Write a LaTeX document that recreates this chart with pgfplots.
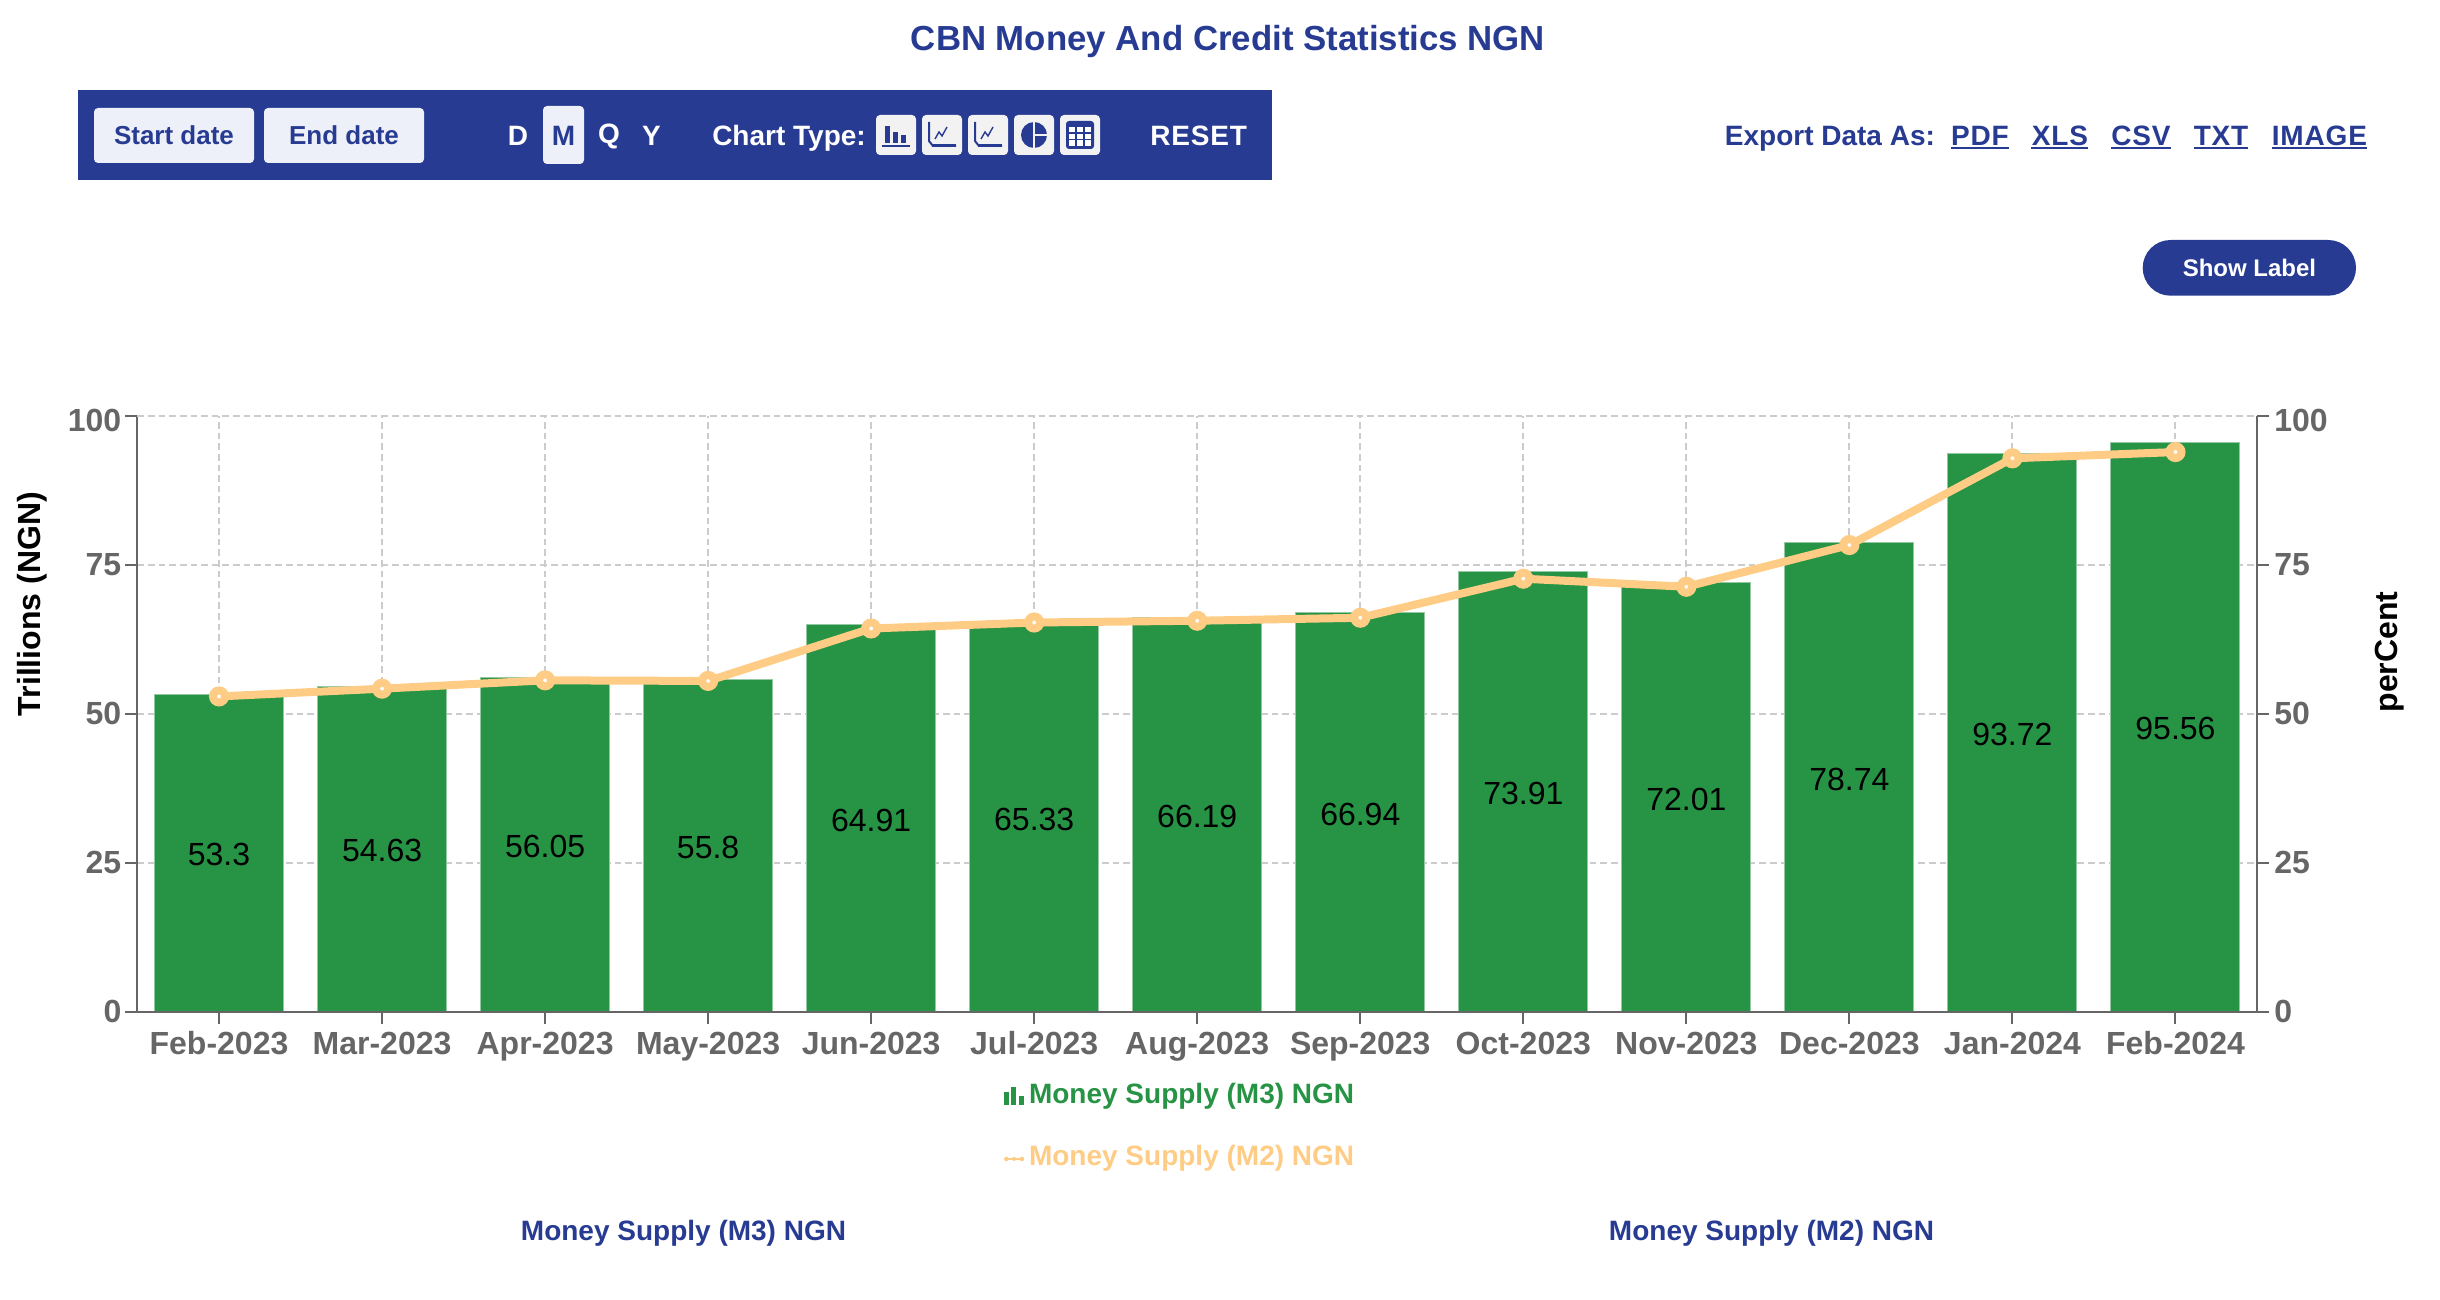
\documentclass[border=0pt]{standalone}
\usepackage{fontspec}
\setmainfont{Liberation Sans}
\usepackage{pgfplots}
\usepackage{pgfplotstable}
\pgfplotsset{compat=1.18}

\definecolor{navy}{HTML}{273B92}
\definecolor{barc}{HTML}{279344}
\definecolor{linec}{HTML}{FFCC85}
\definecolor{tickc}{HTML}{666666}
\definecolor{gridc}{HTML}{CCCCCC}
\definecolor{btnc}{HTML}{EDF0F8}
\definecolor{tilec}{HTML}{F2F2F2}

\newcommand{\fs}[1]{\fontsize{#1}{#1}\selectfont}

% money supply, trillions; columns m3 (labels on bars) and m2
\pgfplotstableread{
idx m3    m2
0   53.3  52.9
1   54.63 54.2
2   56.05 55.6
3   55.8  55.5
4   64.91 64.3
5   65.33 65.3
6   66.19 65.6
7   66.94 66.1
8   73.91 72.65
9   72.01 71.3
10  78.74 78.3
11  93.72 92.85
12  95.56 93.9
}\datatable

\pgfplotsset{
  base/.style={
    scale only axis, width=1059.75pt, height=298pt,
    at={(68.75pt,-505.85pt)}, anchor=south west,
    xmin=-0.5, xmax=12.5, ymin=0, ymax=100,
    ytick={0,25,50,75}, extra y ticks={100},
    extra y tick style={yticklabel style={yshift=-2.2pt}},
    /pgf/number format/assume math mode=true,
    tick align=outside, major tick length=6pt,
    tick style={tickc, line width=1pt},
    axis line style={tickc, line width=1pt},
    ticklabel style={tickc, font=\bfseries\fs{16}},
    yticklabel style={inner sep=0pt},
    clip=false,
  },
}

\begin{document}
\begin{tikzpicture}[x=0.5pt,y=-0.5pt]
\path[use as bounding box] (0,0) rectangle (2440,1300);

\begin{axis}[base,
  axis y line*=left, axis x line*=bottom,
  xtick={0,...,12},
  xticklabels={Feb-2023,Mar-2023,Apr-2023,May-2023,Jun-2023,Jul-2023,Aug-2023,Sep-2023,Oct-2023,Nov-2023,Dec-2023,Jan-2024,Feb-2024},
  xticklabel style={yshift=-0.5pt},
  grid=major,
  grid style={gridc, line width=1pt, dash pattern=on 3.3pt off 2pt},
  y tick label style={xshift=-1.9pt},
  ylabel={Trillions (NGN)},
  ylabel style={at={(axis description cs:-0.0497,0.684)}, anchor=center, font=\bfseries\fs{16}},
]
\addplot[ybar, bar width=64.5pt, fill=barc, draw=barc!50!white, line width=0.5pt,
  visualization depends on={y \as \rawy},
  nodes near coords,
  /pgf/number format/fixed, /pgf/number format/precision=2,
  every node near coord/.append style={anchor=center, text=black, font=\fs{16},
    yshift={-1.49pt*\rawy-1pt}},
] table[x=idx,y=m3] {\datatable};
\end{axis}

\begin{axis}[base,
  axis y line*=right, axis x line*=bottom,
  xtick=\empty,
  y tick label style={xshift=2.5pt},
  ylabel={perCent},
  ylabel style={at={(axis description cs:1.0625,0.6035)}, anchor=center, font=\bfseries\fs{16}},
  legend cell align=left,
  legend style={draw=none, fill=none, anchor=north west,
    at={(axis description cs:0.40682,-0.12)},
    font=\bfseries\fs{14}, row sep=19.2pt, inner sep=0pt, nodes={inner sep=0pt, xshift=2pt}},
]
\addlegendimage{legend image code/.code={
  \path (0pt,0pt) (10.45pt,0pt);
  \fill[barc] (0pt,-4.5pt) rectangle (2pt,1.5pt);
  \fill[barc] (3.7pt,-4.5pt) rectangle (5.7pt,4pt);
  \fill[barc] (7.4pt,-4.5pt) rectangle (9.4pt,-0.5pt);
}}
\addlegendentry{\textcolor{barc}{Money Supply (M3) NGN}}
\addplot[linec, line width=4pt, mark=*, mark size=3pt, mark options={fill=white, draw=linec, line width=4pt},
  legend image code/.code={
    \path (0pt,0pt) (10.45pt,0pt);
    \draw[linec, line width=0.75pt] (0.5pt,-1pt) -- (9.5pt,-1pt);
    \path[fill=linec, draw=none] (1.1pt,-1pt) circle (1.15pt);
    \path[fill=linec, draw=none] (5pt,-1pt) circle (1pt);
    \path[fill=linec, draw=none] (8.9pt,-1pt) circle (1.15pt);
  },
] table[x=idx,y=m2] {\datatable};
\addlegendentry{\textcolor{linec}{Money Supply (M2) NGN}}
\end{axis}

% page furniture around the chart
\tikzset{ui/.style={inner sep=0pt, text=navy, font=\bfseries\fs{#1}}, ui/.default=14}

\node[ui=17.4] at (1228,42) {CBN Money And Credit Statistics NGN};

% toolbar
\fill[navy] (78,90) rectangle (1272,180);
\fill[btnc, rounded corners=2pt] (94,108) rectangle (254,163);
\fill[btnc, rounded corners=2pt] (264,108) rectangle (424,163);
\fill[btnc, rounded corners=2pt] (543,106) rectangle (584,164);
\node[ui=13] at (174,135.5) {Start date};
\node[ui=13] at (344,135.5) {End date};
\node[ui=14,text=white] at (518,136) {D};
\node[ui=14] at (563.5,136) {M};
\node[ui=14,text=white] at (609,136) {Q};
\node[ui=14,text=white] at (651.5,136) {Y};
\node[ui=14,text=white] at (789,138) {Chart Type:};
\node[ui=14,text=white] at (1198.7,136) {\addfontfeature{LetterSpace=3}RESET};

\foreach \cx in {896,942,988,1034,1080}
  \fill[tilec, rounded corners=2pt] (\cx-20,115) rectangle (\cx+20,155);
% bar icon
\begin{scope}[shift={(896,135)}]
  \fill[navy] (-11,8) rectangle (-6,-9);
  \fill[navy] (-3,8) rectangle (2,-3);
  \fill[navy] (5,8) rectangle (10,0);
  \fill[navy] (-14,10) rectangle (14,12);
\end{scope}
% line icons
\foreach \cx in {942,988}{
\begin{scope}[shift={(\cx,135)}]
  \draw[navy, line width=1pt, line join=round] (-13,-13) -- (-13,6) -- (-9,11) -- (14,11);
  \fill[navy] (-10,9.5) rectangle (14,12.5);
  \draw[navy, line width=0.7pt] (-7,4) -- (-3,-3) -- (0,1) -- (5,-8);
\end{scope}}
% pie icon
\begin{scope}[shift={(1034,135)}]
  \fill[navy] (0,0) circle (13);
  \draw[tilec, line width=0.8pt] (0,-14) -- (0,0) -- (14,0);
  \draw[tilec, line width=0.8pt] (0,0) -- (0,14);
\end{scope}
% table icon
\begin{scope}[shift={(1080,135)}]
  \fill[navy, rounded corners=1.5pt] (-14,-14) rectangle (14,14);
  \fill[white] (-11,-8) rectangle (11,11);
  \draw[navy, line width=0.6pt] (-4,-8) -- (-4,11) (4,-8) -- (4,11) (-11,-2) -- (11,-2) (-11,4.5) -- (11,4.5);
\end{scope}

% export links
\node[ui=14, anchor=west] at (1724.5,139) {Export Data As:};
\foreach \a/\b/\t in {1950.6/2009.1/PDF,2031.3/2088.4/XLS,2111/2171/CSV,2193.6/2248.4/TXT,2271.5/2367.3/IMAGE}{
  \node[ui=14] at ({(\a+\b)/2},136) {\addfontfeature{LetterSpace=3}\t};
  \draw[navy, line width=1pt] (\a,148) -- (\b,148);
}

% show label button
\fill[navy, rounded corners=13.9pt] (2142.7,240) rectangle (2356,295.7);
\node[ui=12,text=white] at (2249.4,268) {Show Label};

% captions under the legend
\node[ui=14] at (683.5,1233) {Money Supply (M3) NGN};
\node[ui=14] at (1771.5,1233) {Money Supply (M2) NGN};
\end{tikzpicture}
\end{document}
